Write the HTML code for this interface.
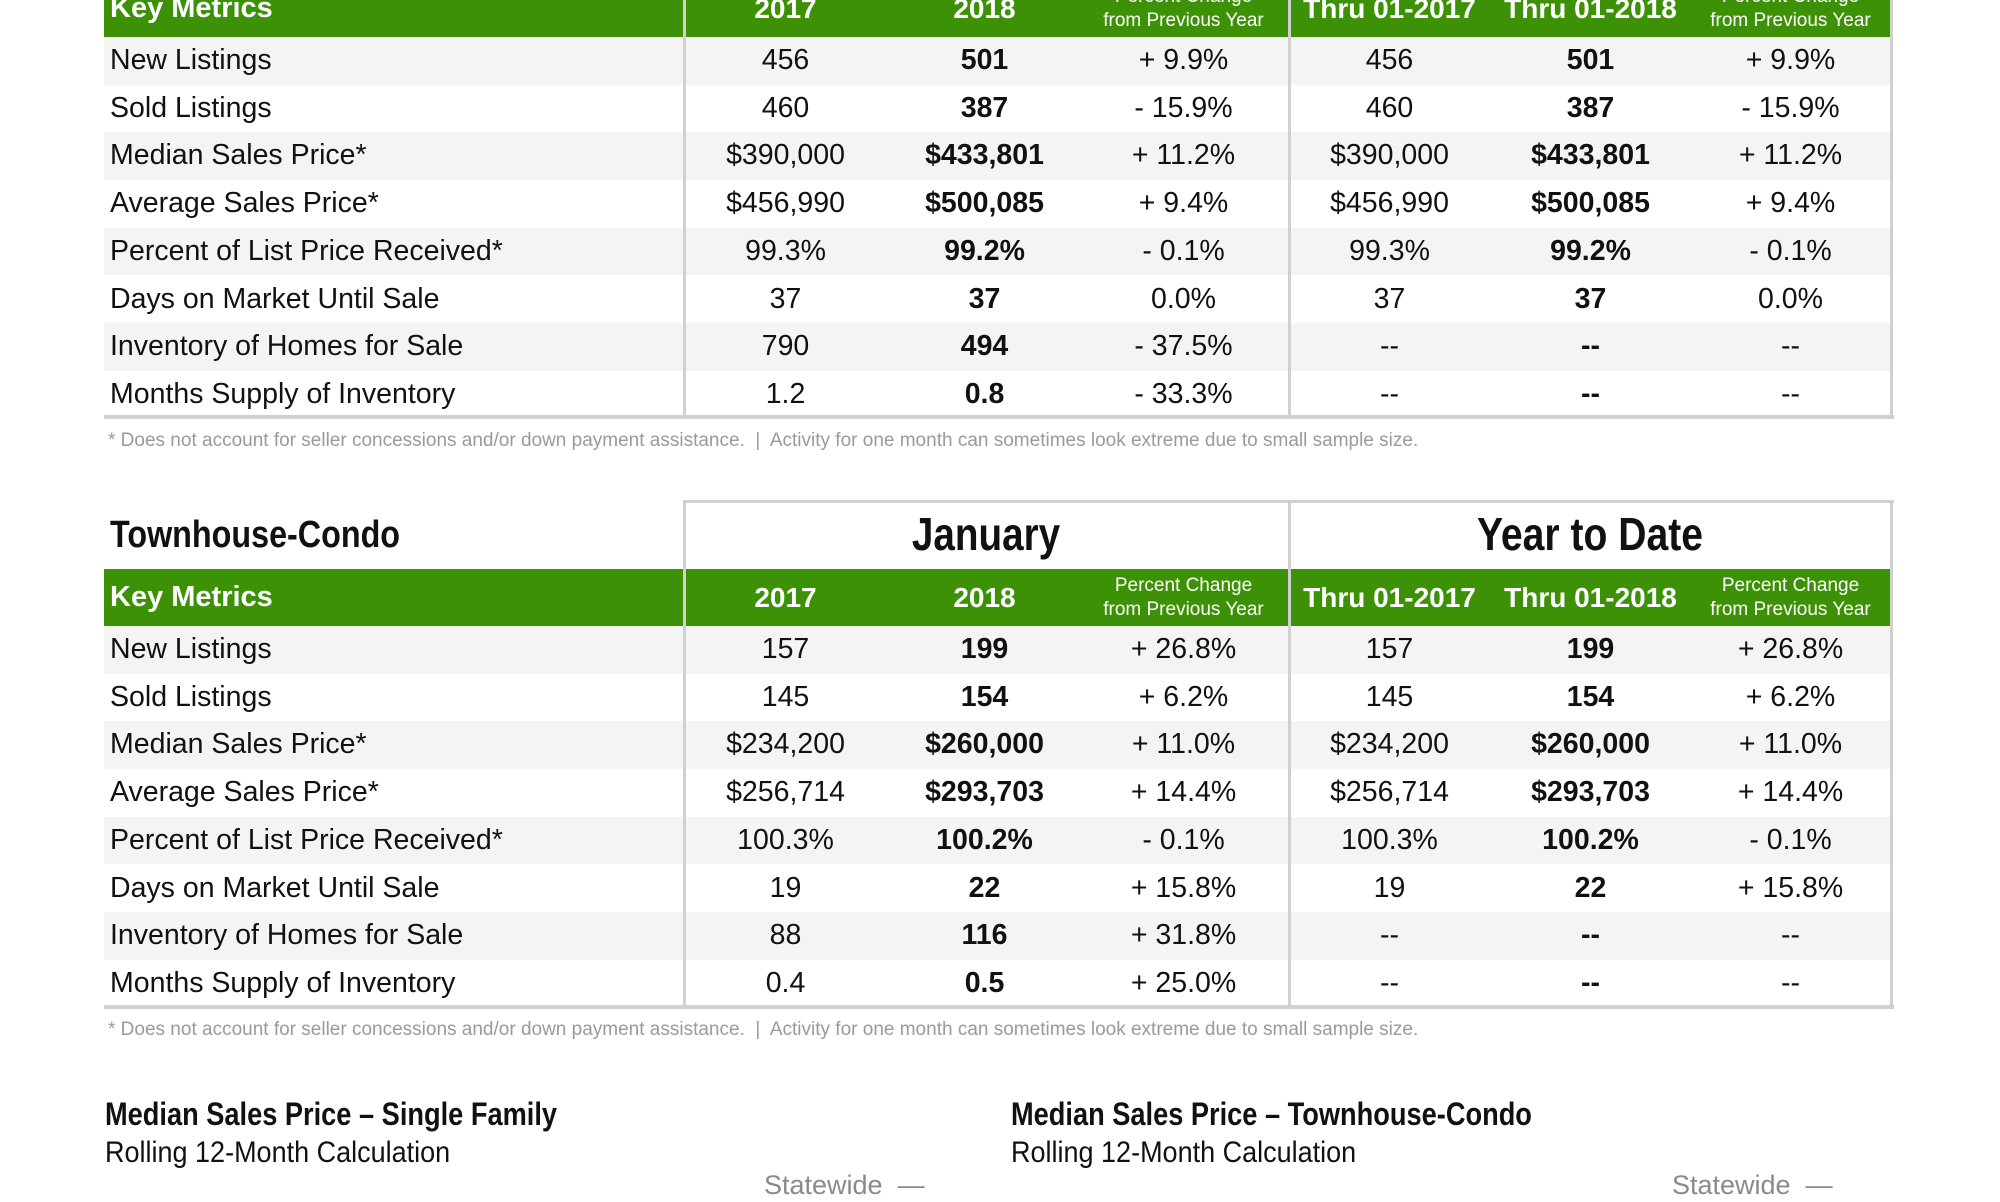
<!DOCTYPE html>
<html><head><meta charset="utf-8"><style>
*{margin:0;padding:0;box-sizing:border-box}
body{width:2000px;height:1200px;background:#fff;position:relative;overflow:hidden;font-family:"Liberation Sans",Arial,sans-serif;color:#111}
.a{position:absolute}
.green{background:#3d9106;color:#fff}
.row{position:absolute;left:104px;width:1787px;height:47.7px;font-size:28.5px;line-height:47.7px}
.row.s{background:#f4f4f4}
.row span{position:absolute;top:0;text-align:center;width:201px}
.row .l{left:6px;text-align:left;width:570px}
.c1{left:581px}.c2{left:780px;font-weight:bold}.c3{left:979px}.c4{left:1185px}.c5{left:1386px;font-weight:bold}.c6{left:1586px}
.hdr{position:absolute;left:104px;width:1787px;height:57px;font-weight:bold;color:#fff}
.hdr span{position:absolute;top:0;height:57px;line-height:57px;text-align:center;width:201px;font-size:28px}
.hdr .l{left:6px;text-align:left;width:400px;font-size:29px}
.hdr .p{font-weight:normal;font-size:19px;line-height:24px;padding-top:5px}
.vl{position:absolute;width:3px;background:#d0d0d0}
.hl{position:absolute;height:4px;background:#d0d0d0}
.fn{position:absolute;left:108px;font-size:19px;color:#9a9a9a;white-space:nowrap}
.cond{font-weight:bold;transform-origin:0 0;white-space:nowrap}
.cc{transform-origin:50% 0}
</style></head><body>

<div class="hdr green" style="top:-20px"><span class="l">Key Metrics</span><span class="c1">2017</span><span class="c2">2018</span><span class="c3 p">Percent Change<br>from Previous Year</span><span class="c4">Thru 01-2017</span><span class="c5">Thru 01-2018</span><span class="c6 p">Percent Change<br>from Previous Year</span></div>
<div class="row s" style="top:37px"><span class="l">New Listings</span><span class="c1">456</span><span class="c2">501</span><span class="c3">+ 9.9%</span><span class="c4">456</span><span class="c5">501</span><span class="c6">+ 9.9%</span></div>
<div class="row" style="top:84.7px"><span class="l">Sold Listings</span><span class="c1">460</span><span class="c2">387</span><span class="c3">- 15.9%</span><span class="c4">460</span><span class="c5">387</span><span class="c6">- 15.9%</span></div>
<div class="row s" style="top:132.4px"><span class="l">Median Sales Price*</span><span class="c1">$390,000</span><span class="c2">$433,801</span><span class="c3">+ 11.2%</span><span class="c4">$390,000</span><span class="c5">$433,801</span><span class="c6">+ 11.2%</span></div>
<div class="row" style="top:180.1px"><span class="l">Average Sales Price*</span><span class="c1">$456,990</span><span class="c2">$500,085</span><span class="c3">+ 9.4%</span><span class="c4">$456,990</span><span class="c5">$500,085</span><span class="c6">+ 9.4%</span></div>
<div class="row s" style="top:227.8px"><span class="l">Percent of List Price Received*</span><span class="c1">99.3%</span><span class="c2">99.2%</span><span class="c3">- 0.1%</span><span class="c4">99.3%</span><span class="c5">99.2%</span><span class="c6">- 0.1%</span></div>
<div class="row" style="top:275.5px"><span class="l">Days on Market Until Sale</span><span class="c1">37</span><span class="c2">37</span><span class="c3">0.0%</span><span class="c4">37</span><span class="c5">37</span><span class="c6">0.0%</span></div>
<div class="row s" style="top:323.2px"><span class="l">Inventory of Homes for Sale</span><span class="c1">790</span><span class="c2">494</span><span class="c3">- 37.5%</span><span class="c4">--</span><span class="c5">--</span><span class="c6">--</span></div>
<div class="row" style="top:370.9px"><span class="l">Months Supply of Inventory</span><span class="c1">1.2</span><span class="c2">0.8</span><span class="c3">- 33.3%</span><span class="c4">--</span><span class="c5">--</span><span class="c6">--</span></div>
<div class="vl" style="left:683px;top:0;height:418px"></div>
<div class="vl" style="left:1288px;top:0;height:418px"></div>
<div class="vl" style="left:1890px;top:0;height:418px"></div>
<div class="hl" style="left:104px;width:1790px;top:415px"></div>
<div class="fn" style="top:430px">* Does not account for seller concessions and/or down payment assistance. &nbsp;|&nbsp; Activity for one month can sometimes look extreme due to small sample size.</div>

<div class="a cond" style="left:110px;top:510px;font-size:38px;line-height:50px;transform:scaleX(0.85)">Townhouse-Condo</div>
<div class="a cond cc" style="left:684px;width:604px;top:503px;text-align:center;font-size:46px;line-height:62px;transform:scaleX(0.84)">January</div>
<div class="a cond cc" style="left:1289px;width:602px;top:503px;text-align:center;font-size:46px;line-height:62px;transform:scaleX(0.85)">Year to Date</div>
<div class="hl" style="left:683px;width:1211px;top:500px;height:3px"></div>
<div class="hdr green" style="top:569px"><span class="l">Key Metrics</span><span class="c1">2017</span><span class="c2">2018</span><span class="c3 p">Percent Change<br>from Previous Year</span><span class="c4">Thru 01-2017</span><span class="c5">Thru 01-2018</span><span class="c6 p">Percent Change<br>from Previous Year</span></div>
<div class="row s" style="top:626px"><span class="l">New Listings</span><span class="c1">157</span><span class="c2">199</span><span class="c3">+ 26.8%</span><span class="c4">157</span><span class="c5">199</span><span class="c6">+ 26.8%</span></div>
<div class="row" style="top:673.7px"><span class="l">Sold Listings</span><span class="c1">145</span><span class="c2">154</span><span class="c3">+ 6.2%</span><span class="c4">145</span><span class="c5">154</span><span class="c6">+ 6.2%</span></div>
<div class="row s" style="top:721.4px"><span class="l">Median Sales Price*</span><span class="c1">$234,200</span><span class="c2">$260,000</span><span class="c3">+ 11.0%</span><span class="c4">$234,200</span><span class="c5">$260,000</span><span class="c6">+ 11.0%</span></div>
<div class="row" style="top:769.1px"><span class="l">Average Sales Price*</span><span class="c1">$256,714</span><span class="c2">$293,703</span><span class="c3">+ 14.4%</span><span class="c4">$256,714</span><span class="c5">$293,703</span><span class="c6">+ 14.4%</span></div>
<div class="row s" style="top:816.8px"><span class="l">Percent of List Price Received*</span><span class="c1">100.3%</span><span class="c2">100.2%</span><span class="c3">- 0.1%</span><span class="c4">100.3%</span><span class="c5">100.2%</span><span class="c6">- 0.1%</span></div>
<div class="row" style="top:864.5px"><span class="l">Days on Market Until Sale</span><span class="c1">19</span><span class="c2">22</span><span class="c3">+ 15.8%</span><span class="c4">19</span><span class="c5">22</span><span class="c6">+ 15.8%</span></div>
<div class="row s" style="top:912.2px"><span class="l">Inventory of Homes for Sale</span><span class="c1">88</span><span class="c2">116</span><span class="c3">+ 31.8%</span><span class="c4">--</span><span class="c5">--</span><span class="c6">--</span></div>
<div class="row" style="top:959.9px"><span class="l">Months Supply of Inventory</span><span class="c1">0.4</span><span class="c2">0.5</span><span class="c3">+ 25.0%</span><span class="c4">--</span><span class="c5">--</span><span class="c6">--</span></div>
<div class="vl" style="left:683px;top:500px;height:507px"></div>
<div class="vl" style="left:1288px;top:500px;height:507px"></div>
<div class="vl" style="left:1890px;top:500px;height:507px"></div>
<div class="hl" style="left:104px;width:1790px;top:1005px"></div>
<div class="fn" style="top:1019px">* Does not account for seller concessions and/or down payment assistance. &nbsp;|&nbsp; Activity for one month can sometimes look extreme due to small sample size.</div>

<div class="a cond" style="left:105px;top:1094px;font-size:32px;line-height:40px;transform:scaleX(0.85)">Median Sales Price – Single Family</div>
<div class="a" style="left:105px;top:1134px;font-size:30px;line-height:38px;transform:scaleX(0.9);transform-origin:0 0;white-space:nowrap">Rolling 12-Month Calculation</div>
<div class="a" style="left:764px;top:1168px;font-size:27px;line-height:34px;color:#8a8a8a;white-space:nowrap">Statewide &nbsp;—</div>
<div class="a cond" style="left:1011px;top:1094px;font-size:32px;line-height:40px;transform:scaleX(0.85)">Median Sales Price – Townhouse-Condo</div>
<div class="a" style="left:1011px;top:1134px;font-size:30px;line-height:38px;transform:scaleX(0.9);transform-origin:0 0;white-space:nowrap">Rolling 12-Month Calculation</div>
<div class="a" style="left:1672px;top:1168px;font-size:27px;line-height:34px;color:#8a8a8a;white-space:nowrap">Statewide &nbsp;—</div>
</body></html>
